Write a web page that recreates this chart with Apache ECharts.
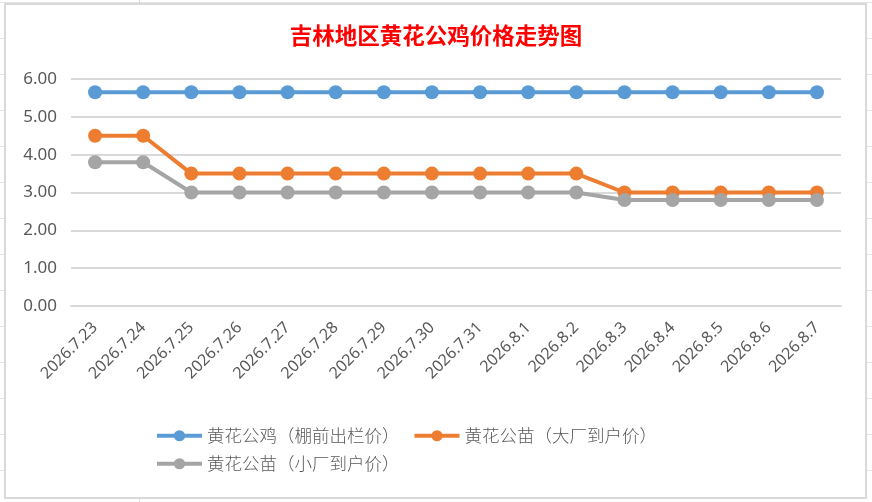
<!DOCTYPE html>
<html>
<head>
<meta charset="utf-8">
<script src="https://cdn.jsdelivr.net/npm/echarts@6/dist/echarts.min.js"></script>
<style>
  html, body { margin: 0; padding: 0; }
  body {
    width: 872px; height: 502px; position: relative; overflow: hidden;
    background-color: #fff;
    background-image:
      linear-gradient(to right, transparent 139px, #dcdcdc 139px, #dcdcdc 140px, transparent 140px),
      repeating-linear-gradient(to bottom, transparent 0, transparent 35px, #e4e4e4 35px, #e4e4e4 36px);
    background-size: 100% 100%, 100% 36px;
    background-position: 0 0, 0 3px;
  }
  #frame {
    position: absolute; left: 4px; top: 3px; width: 859px; height: 492px;
    border: 2px solid #d9d9d9; background: #fff;
  }
  #main { position: absolute; left: 0; top: 0; width: 872px; height: 502px; }
</style>
</head>
<body>
<div id="frame"></div>
<div id="main"></div>
<script>
// 数据
var dates = ['2026.7.23', '2026.7.24', '2026.7.25', '2026.7.26', '2026.7.27', '2026.7.28', '2026.7.29', '2026.7.30',
             '2026.7.31', '2026.8.1', '2026.8.2', '2026.8.3', '2026.8.4', '2026.8.5', '2026.8.6', '2026.8.7'];
var pengQian = [5.65, 5.65, 5.65, 5.65, 5.65, 5.65, 5.65, 5.65, 5.65, 5.65, 5.65, 5.65, 5.65, 5.65, 5.65, 5.65];
var daChang  = [4.5, 4.5, 3.5, 3.5, 3.5, 3.5, 3.5, 3.5, 3.5, 3.5, 3.5, 3.0, 3.0, 3.0, 3.0, 3.0];
var xiaoChang = [3.8, 3.8, 3.0, 3.0, 3.0, 3.0, 3.0, 3.0, 3.0, 3.0, 3.0, 2.8, 2.8, 2.8, 2.8, 2.8];
var names = ['黄花公鸡（棚前出栏价）', '黄花公苗（大厂到户价）', '黄花公苗（小厂到户价）'];

var myChart = echarts.init(document.getElementById('main'));

var cjk = '"Noto Sans CJK SC", sans-serif';
var legendStyle = { fontSize: 17.5, color: '#595959', fontFamily: cjk, fontWeight: 300 };

function line(name, data, color) {
    return {
        name: name,
        type: 'line',
        data: data,
        symbol: 'circle',
        symbolSize: 14,
        lineStyle: { width: 4, color: color },
        itemStyle: { color: color },
        animation: false
    };
}

option = {
    backgroundColor: 'transparent',
    title: {
        text: '吉林地区黄花公鸡价格走势图',
        left: 'center',
        top: 19,
        textStyle: { color: '#ff0000', fontSize: 22.5, fontWeight: 'bold', fontFamily: cjk }
    },
    legend: [
        {
            data: [names[0], names[1]],
            left: 155, top: 427, padding: 0,
            itemWidth: 45, itemHeight: 14, itemGap: 13,
            lineStyle: { width: 4 },
            textStyle: legendStyle
        },
        {
            data: [names[2]],
            left: 155, top: 455, padding: 0,
            itemWidth: 45, itemHeight: 14,
            lineStyle: { width: 4 },
            textStyle: legendStyle
        }
    ],
    grid: { left: 71, right: 31, top: 79, bottom: 196, containLabel: false },
    xAxis: {
        type: 'category',
        data: dates,
        axisLine: { lineStyle: { color: '#d9d9d9', width: 2 } },
        axisTick: { show: false },
        axisLabel: {
            rotate: 45, margin: 19, interval: 0,
            fontSize: 16, color: '#595959', fontFamily: '"Noto Sans", sans-serif'
        }
    },
    yAxis: {
        type: 'value',
        min: 0, max: 6, interval: 1,
        axisLine: { show: false },
        axisTick: { show: false },
        axisLabel: {
            margin: 14, fontSize: 17, color: '#595959', fontFamily: '"Noto Sans", sans-serif',
            formatter: function (v) { return v.toFixed(2); }
        },
        splitLine: { lineStyle: { color: '#d9d9d9', width: 2 } }
    },
    series: [
        line(names[0], pengQian, '#5b9bd5'),
        line(names[1], daChang, '#ed7d31'),
        line(names[2], xiaoChang, '#a5a5a5')
    ]
};

myChart.setOption(option);
</script>
</body>
</html>
